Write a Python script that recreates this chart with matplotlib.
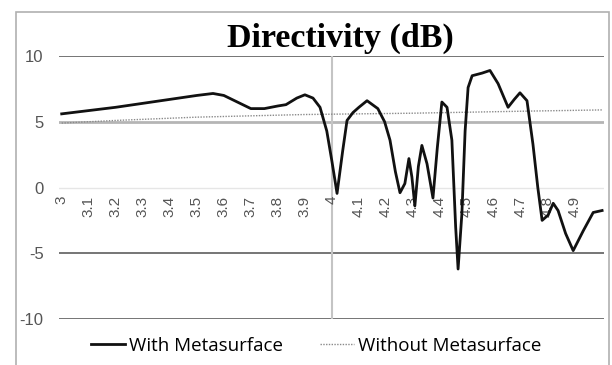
import matplotlib
matplotlib.use("Agg")
import matplotlib.pyplot as plt
from matplotlib.patches import Rectangle

# Frequency (GHz) and directivity (dB)
freq_with = [3.0, 3.1, 3.2, 3.3, 3.4, 3.5, 3.56, 3.6, 3.65, 3.7, 3.75, 3.8, 3.83,
             3.87, 3.9, 3.93, 3.956, 3.981, 4.0, 4.019, 4.04, 4.056, 4.078, 4.1,
             4.13, 4.17, 4.195, 4.215, 4.235, 4.252, 4.27, 4.285, 4.296, 4.307,
             4.32, 4.333, 4.352, 4.374, 4.39, 4.407, 4.426, 4.444, 4.458, 4.467,
             4.481, 4.493, 4.504, 4.519, 4.556, 4.585, 4.615, 4.652, 4.675,
             4.696, 4.722, 4.744, 4.762, 4.778, 4.8, 4.819, 4.837, 4.865, 4.893,
             4.93, 4.967, 5.0]
dir_with = [5.6, 5.85, 6.1, 6.4, 6.7, 7.0, 7.15, 7.0, 6.5, 6.0, 6.0, 6.2, 6.3,
            6.8, 7.05, 6.8, 6.1, 4.3, 2.0, -0.45, 2.8, 5.1, 5.7, 6.1,
            6.6, 6.0, 5.0, 3.6, 1.2, -0.4, 0.3, 2.2, 0.8, -1.4,
            1.6, 3.2, 1.8, -0.8, 3.0, 6.5, 6.1, 3.6, -3.0, -6.2,
            -2.0, 4.3, 7.6, 8.5, 8.7, 8.9, 7.9, 6.1, 6.7,
            7.2, 6.6, 3.3, 0.0, -2.5, -2.1, -1.2, -1.75, -3.5, -4.8,
            -3.3, -1.9, -1.75]

freq_without = [3.0, 3.2, 3.5, 3.9, 4.3, 4.7, 5.0]
dir_without = [4.9, 5.1, 5.35, 5.55, 5.65, 5.8, 5.9]

tick_freqs = [3.0, 3.1, 3.2, 3.3, 3.4, 3.5, 3.6, 3.7, 3.8, 3.9,
              4.0, 4.1, 4.2, 4.3, 4.4, 4.5, 4.6, 4.7, 4.8, 4.9]
tick_labels = ["3", "3.1", "3.2", "3.3", "3.4", "3.5", "3.6", "3.7", "3.8", "3.9",
               "4", "4.1", "4.2", "4.3", "4.4", "4.5", "4.6", "4.7", "4.8", "4.9"]
y_ticks = [-10, -5, 0, 5, 10]


def main() -> None:
    fig = plt.figure(figsize=(6.12, 3.65), dpi=100)
    fig.patches.append(Rectangle((16 / 612, -0.05), (609 - 16) / 612, 1 - 12 / 365 + 0.05,
                                 transform=fig.transFigure, fill=False,
                                 edgecolor="#b0b0b0", linewidth=1.2))

    ax = fig.add_axes([59 / 612, 1 - 319 / 365, (604 - 59) / 612, (319 - 56) / 365])
    ax.set_xlim(2.99, 5.007)
    ax.set_ylim(-10, 10)

    # gridlines like the Excel chart
    for yv in (10, -5, -10):
        ax.axhline(yv, color="#6a6a6a", linewidth=1.3, zorder=1)
    ax.axhline(0, color="#e6e6e6", linewidth=1.0, zorder=1)
    ax.axhline(5, color="#b5b5b5", linewidth=2.0, zorder=1)
    ax.axvline(4.0, color="#c4c4c4", linewidth=1.5, zorder=1)

    ax.plot(freq_without, dir_without, color="#8a8a8a", linestyle=(0, (1, 1)),
            linewidth=1.0, label="Without Metasurface", zorder=2)
    ax.plot(freq_with, dir_with, color="#111111", linewidth=2.0,
            solid_joinstyle="round", label="With Metasurface", zorder=3)

    for side in ("top", "right", "left"):
        ax.spines[side].set_visible(False)
    ax.spines["bottom"].set_position(("data", 0))
    ax.spines["bottom"].set_visible(False)

    ax.set_xticks(tick_freqs)
    ax.set_xticklabels(tick_labels, rotation=90, fontsize=11, color="#555555",
                       family="Liberation Sans", va="top")
    ax.tick_params(axis="x", length=0, pad=6)
    ax.set_yticks(y_ticks)
    ax.set_yticklabels([str(v) for v in y_ticks], fontsize=12, color="#555555",
                       family="Liberation Sans")
    ax.tick_params(axis="y", length=0, pad=11)

    fig.text(340 / 612, 1 - 38 / 365, "Directivity (dB)", ha="center", va="center",
             fontsize=24.5, fontweight="bold", family="Liberation Serif")

    handles, labels = ax.get_legend_handles_labels()
    fig.legend(handles[::-1], labels[::-1], loc="center", bbox_to_anchor=(316 / 612, 1 - 346 / 365),
               ncol=2, frameon=False, prop={"family": "Open Sans", "size": 13.5},
               handlelength=1.8, columnspacing=2.0, handletextpad=0.2)

    fig.savefig("out.png", dpi=100)


if __name__ == "__main__":
    main()
